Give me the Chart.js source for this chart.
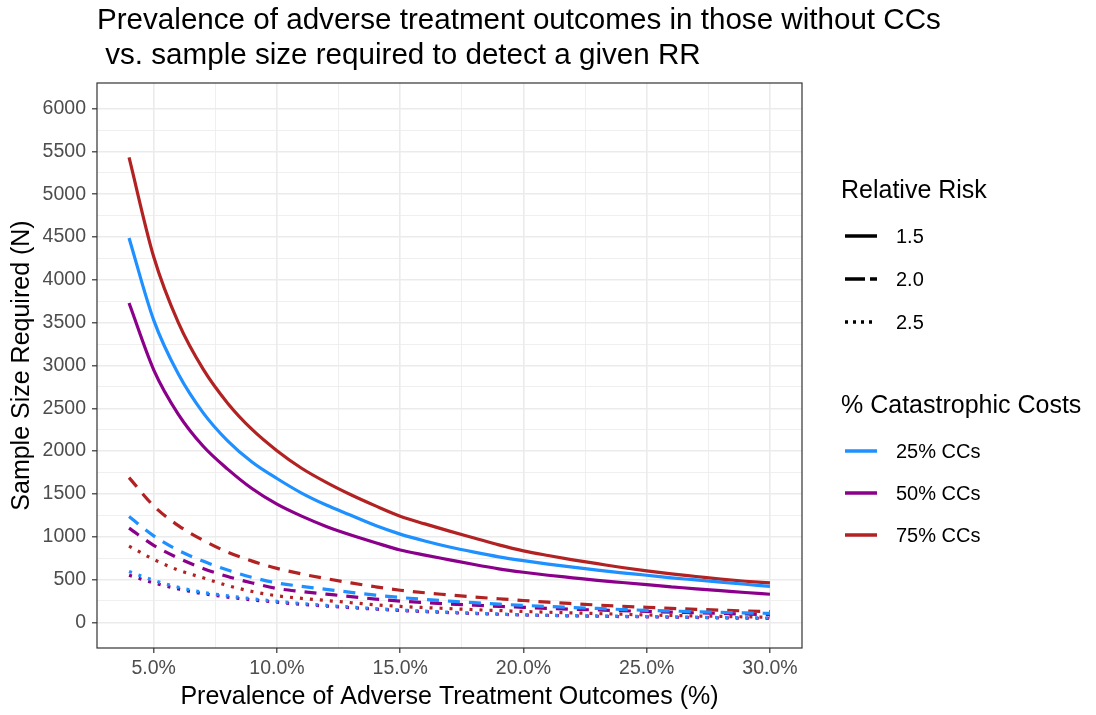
<!DOCTYPE html>
<html lang="en">
<head>
<meta charset="UTF-8">
<title>Prevalence vs sample size</title>
<script src="https://cdn.jsdelivr.net/npm/chart.js"></script>
<style>
  body { margin: 0; background: #fff; }
</style>
</head>
<body>
<canvas id="sizeChart" width="1096" height="715"></canvas>
<script>
  // prevalence of adverse outcomes (%) on the x axis
  const prevalence = [4,5,6,7,8,9,10,11,12,13,14,15,16,17,18,19,20,21,22,23,24,25,26,27,28,29,30];

  // RR 1.5 (solid)
  const rr15_cc25 = [4490,3530,2900,2450,2120,1870,1680,1510,1370,1250,1130,1030,950,880,820,765,720,680,645,610,578,550,520,495,470,445,420];
  const rr15_cc50 = [3730,2950,2430,2060,1790,1560,1380,1240,1120,1020,930,845,785,730,675,625,585,550,520,490,465,440,415,390,370,348,328];
  const rr15_cc75 = [5430,4270,3500,2960,2560,2250,2005,1800,1635,1490,1360,1240,1150,1065,985,905,835,780,730,685,640,600,565,535,505,480,460];

  // RR 2.0 (dashed)
  const rr20_cc25 = [1235,1010,840,715,610,525,460,420,385,350,318,290,268,248,230,213,198,185,173,162,150,140,132,124,117,110,104];
  const rr20_cc50 = [1100,900,750,630,535,460,395,360,330,300,272,248,230,214,200,187,175,163,153,144,135,127,119,111,104,97,90];
  const rr20_cc75 = [1690,1360,1130,960,820,715,630,565,510,460,415,375,345,320,295,275,255,235,218,202,188,175,163,152,142,133,125];

  // RR 2.5 (dotted)
  const rr25_cc25 = [595,490,410,350,310,275,245,220,198,178,160,143,130,118,107,97,88,82,78,74,71,68,64,60,56,53,50];
  const rr25_cc50 = [550,460,390,335,295,262,235,210,190,171,154,138,125,113,103,94,86,80,75,71,67,64,60,56,52,49,46];
  const rr25_cc75 = [890,735,610,520,430,360,310,280,255,230,205,186,172,160,148,137,127,118,110,102,94,86,80,74,69,64,60];

  const xTicks = [5,7.5,10,12.5,15,17.5,20,22.5,25,27.5,30];
  const yTicks = [];
  for (let v = 0; v <= 6000; v += 250) yTicks.push(v);

  const ccLabels = ['25% CCs', '50% CCs', '75% CCs'];
  const ccColors = ['#1E90FF', '#8B008B', '#B22222'];
  const rrLabels = ['1.5', '2.0', '2.5'];
  const rrDashes = [[], [12, 9], [3, 7]];

  const series = [
    [rr15_cc25, rr15_cc50, rr15_cc75],
    [rr20_cc25, rr20_cc50, rr20_cc75],
    [rr25_cc25, rr25_cc50, rr25_cc75]
  ];

  const datasets = [];
  series.forEach((group, r) => {
    group.forEach((vals, c) => {
      datasets.push({
        label: 'RR ' + rrLabels[r] + ', ' + ccLabels[c],
        data: prevalence.map((p, i) => ({ x: p, y: vals[i] })),
        borderColor: ccColors[c],
        borderWidth: 3.2,
        borderDash: rrDashes[r],
        pointRadius: 0,
        fill: false,
        cubicInterpolationMode: 'monotone'
      });
    });
  });

  const FONT = '"Liberation Sans", Arial, sans-serif';

  // title, axis titles, panel border and the two legends
  const decorations = {
    id: 'decorations',
    beforeDraw(chart) {
      const ctx = chart.ctx;
      ctx.save();
      ctx.fillStyle = '#fff';
      ctx.fillRect(0, 0, chart.width, chart.height);
      ctx.restore();
    },
    afterDraw(chart) {
      const ctx = chart.ctx;
      const a = chart.chartArea;
      ctx.save();

      // panel border
      ctx.strokeStyle = '#333333';
      ctx.lineWidth = 1.2;
      ctx.strokeRect(a.left, a.top, a.right - a.left, a.bottom - a.top);

      // title
      ctx.fillStyle = '#000';
      ctx.textBaseline = 'middle';
      ctx.textAlign = 'left';
      ctx.font = '29.6px ' + FONT;
      ctx.fillText('Prevalence of adverse treatment outcomes in those without CCs', 97, 21);
      ctx.fillText(' vs. sample size required to detect a given RR', 97, 56);

      // axis titles
      ctx.font = '25px ' + FONT;
      ctx.textAlign = 'center';
      ctx.fillText('Prevalence of Adverse Treatment Outcomes (%)', (a.left + a.right) / 2, 697);
      ctx.save();
      ctx.translate(22, (a.top + a.bottom) / 2);
      ctx.rotate(-Math.PI / 2);
      ctx.fillText('Sample Size Required (N)', 0, 0);
      ctx.restore();

      // legends
      ctx.textAlign = 'left';
      ctx.font = '25px ' + FONT;
      ctx.fillText('Relative Risk', 841, 191);
      ctx.fillText('% Catastrophic Costs', 841, 406);

      ctx.font = '20px ' + FONT;
      ctx.lineWidth = 3.5;
      rrLabels.forEach((lab, i) => {
        const y = 236 + i * 43;
        ctx.strokeStyle = '#000';
        ctx.setLineDash(i === 0 ? [] : (i === 1 ? [20, 5, 7] : [3, 5]));
        ctx.beginPath();
        ctx.moveTo(845, y);
        ctx.lineTo(877, y);
        ctx.stroke();
        ctx.fillText(lab, 896, y + 1);
      });
      ctx.setLineDash([]);
      ccLabels.forEach((lab, i) => {
        const y = 451 + i * 42;
        ctx.strokeStyle = ccColors[i];
        ctx.beginPath();
        ctx.moveTo(845, y);
        ctx.lineTo(877, y);
        ctx.stroke();
        ctx.fillStyle = '#000';
        ctx.fillText(lab, 896, y + 1);
      });
      ctx.restore();
    }
  };

  const isMajorX = v => Math.abs(v % 5) < 1e-9;
  const isMajorY = v => v % 500 === 0;

  new Chart(document.getElementById('sizeChart').getContext('2d'), {
    type: 'line',
    data: { datasets: datasets },
    plugins: [decorations],
    options: {
      responsive: false,
      animation: false,
      layout: { padding: { left: 0, top: 83, right: 294, bottom: 0 } },
      plugins: {
        legend: { display: false },
        tooltip: { enabled: false }
      },
      scales: {
        x: {
          type: 'linear',
          min: 2.7,
          max: 31.3,
          afterBuildTicks: s => { s.ticks = xTicks.map(v => ({ value: v })); },
          afterFit: s => { s.height = 67; },
          border: { display: false },
          grid: {
            color: '#EBEBEB',
            lineWidth: c => (c.tick && isMajorX(c.tick.value)) ? 1.6 : 0.8,
            tickColor: c => (c.tick && isMajorX(c.tick.value)) ? '#333333' : 'rgba(0,0,0,0)',
            tickLength: 5,
            tickWidth: 1.2
          },
          ticks: {
            autoSkip: false,
            maxRotation: 0,
            padding: 4,
            color: '#4D4D4D',
            font: { family: FONT, size: 19.5 },
            callback: v => isMajorX(v) ? v.toFixed(1) + '%' : ''
          }
        },
        y: {
          type: 'linear',
          min: -300,
          max: 6300,
          afterBuildTicks: s => { s.ticks = yTicks.map(v => ({ value: v })); },
          afterFit: s => { s.width = 97; },
          border: { display: false },
          grid: {
            color: '#EBEBEB',
            lineWidth: c => (c.tick && isMajorY(c.tick.value)) ? 1.6 : 0.8,
            tickColor: c => (c.tick && isMajorY(c.tick.value)) ? '#333333' : 'rgba(0,0,0,0)',
            tickLength: 5,
            tickWidth: 1.2
          },
          ticks: {
            autoSkip: false,
            padding: 6,
            color: '#4D4D4D',
            font: { family: FONT, size: 19.5 },
            callback: v => isMajorY(v) ? String(v) : ''
          }
        }
      }
    }
  });
</script>
</body>
</html>
